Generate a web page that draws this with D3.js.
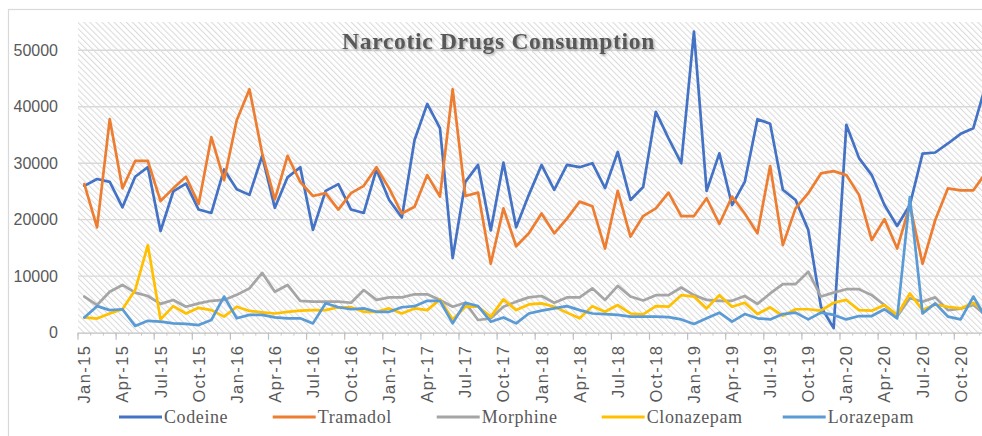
<!DOCTYPE html>
<html><head><meta charset="utf-8">
<script src="https://cdn.jsdelivr.net/npm/d3@7"></script>
<style>body{margin:0;background:#fff;} svg{display:block}</style>
</head><body>
<svg id="c" width="982" height="436"></svg>
<script>
// ---------- data ----------
const years = ["15","16","17","18","19","20"];
const monthNames = ["Jan","Feb","Mar","Apr","May","Jun","Jul","Aug","Sep","Oct","Nov","Dec"];
const categories = years.flatMap(y => monthNames.map(m => m + "-" + y));
const tickLabels = ["Jan-15","Apr-15","Jul-15","Oct-15","Jan-16","Apr-16","Jul-16","Oct-16","Jan-17","Apr-17","Jul-17","Oct-17","Jan-18","Apr-18","Jul-18","Oct-18","Jan-19","Apr-19","Jul-19","Oct-19","Jan-20","Apr-20","Jul-20","Oct-20"];
const yTicks = [0,10000,20000,30000,40000,50000];
const seriesNames = ["Codeine","Tramadol","Morphine","Clonazepam","Lorazepam"];

const codeine = [26000,27200,26700,22200,27600,29300,18000,25000,26400,21800,21200,28900,25400,24400,31300,22100,27500,29300,18200,25100,26300,21800,21200,28900,23500,20400,34100,40500,36200,13200,26700,29700,18100,30100,18650,24400,29700,25300,29700,29300,30000,25600,32000,23500,25800,39100,34400,30000,53300,25100,31750,22600,26700,37800,37000,25300,23500,18200,4600,800,36800,30900,27900,22600,18900,22600,31700,31900,33500,35200,36200,44000];
const tramadol = [26300,18650,37800,25550,30400,30400,23300,25550,27600,22800,34600,27000,37600,43100,31750,23600,31300,26700,24200,24700,21800,24700,26000,29300,25550,21100,22300,27900,24100,43100,24200,24800,12200,22000,15300,17600,21100,17600,20200,23200,22400,14900,25100,17000,20650,22000,24800,20650,20650,23800,19250,24100,21100,17600,29500,15500,22000,24700,28200,28600,27900,24400,16400,20100,14900,22600,12200,19950,25550,25200,25200,28400];
const morphine = [6400,4900,7250,8450,7100,6500,5100,5800,4600,5200,5650,5800,6700,7850,10600,7250,8450,5650,5500,5500,5500,5300,7550,5800,6250,6250,6800,6800,5800,4600,5300,2250,2550,4600,5500,6250,6500,5300,6250,6250,7850,5800,8300,6400,5700,6650,6650,8000,6650,5800,5650,5650,6500,5100,6950,8600,8600,10800,6400,7100,7700,7700,6650,4900,2850,6100,5500,6250,4000,4250,4900,3000];
const clonazepam = [2700,2500,3400,4150,7550,15500,2350,4700,3400,4400,4000,2850,4600,3850,3600,3400,3700,3900,4000,4000,4500,4500,3700,3700,4300,3400,4300,4000,5900,2350,4600,4600,2850,5900,4000,5000,5200,4600,3550,2550,4700,3700,4900,3400,3250,4700,4600,6650,6400,4300,6650,4600,5300,3300,4500,3000,4150,4150,3900,5300,5800,4000,3900,4900,3150,6950,4000,5000,4600,4300,5300,3500];
const lorazepam = [2700,4700,4000,4150,1200,2100,1950,1650,1550,1350,2250,6400,2550,3150,3150,2700,2550,2550,1650,5200,4500,4150,4300,3700,3700,4500,4700,5650,5650,1650,5300,4700,1950,2700,1650,3400,3900,4300,4700,4000,3400,3300,3150,2850,2850,2850,2750,2350,1550,2550,3550,1950,3300,2550,2350,3300,3550,2350,3550,3150,2350,2950,2950,4150,2550,24000,3400,5200,2850,2350,6400,2500];

// ---------- layout ----------
const colors = ["#4472C4","#ED7D31","#A5A5A5","#FFC000","#5B9BD5"];
const allSeries = [codeine, tramadol, morphine, clonazepam, lorazepam];
const L = 78, T = 22, B = 332.7, step = 12.7;
const svg = d3.select("#c");

const defs = svg.append("defs");
const pat = defs.append("pattern").attr("id","hatch").attr("patternUnits","userSpaceOnUse")
  .attr("width",4.3).attr("height",4.3).attr("patternTransform","rotate(-45)");
pat.append("rect").attr("width",4.3).attr("height",4.3).attr("fill","#ffffff");
pat.append("rect").attr("width",1).attr("height",4.3).attr("fill","#dadada");
const f = defs.append("filter").attr("id","sh").attr("x","-5%").attr("y","-20%").attr("width","110%").attr("height","150%");
f.append("feDropShadow").attr("dx",1.2).attr("dy",1.4).attr("stdDeviation",0.9).attr("flood-color","#8a8a8a").attr("flood-opacity",0.8);

// chart border
svg.append("rect").attr("x",8.5).attr("y",9.5).attr("width",1100).attr("height",600)
  .attr("fill","#fff").attr("stroke","#d9d9d9").attr("stroke-width",1.2);

const x = d3.scaleBand().domain(categories).range([L, L + step*categories.length]);
const bw = x.bandwidth();
const y = d3.scaleLinear().domain([0,55000]).range([B, T]);

// plot area hatch
svg.append("rect").attr("x",L).attr("y",T).attr("width",step*categories.length).attr("height",B-T).attr("fill","url(#hatch)");

// gridlines
svg.append("g").selectAll("line").data(yTicks.filter(d=>d>0)).join("line")
  .attr("x1",L).attr("x2",L+step*categories.length)
  .attr("y1",d=>y(d)).attr("y2",d=>y(d))
  .attr("stroke","#d9d9d9").attr("stroke-width",1.3);

// y labels
const yAxis = svg.append("g").attr("transform",`translate(${L},0)`)
  .call(d3.axisLeft(y).tickValues(yTicks).tickSize(0).tickPadding(20).tickFormat(d3.format("d")));
yAxis.select(".domain").remove();
yAxis.selectAll("text").attr("fill","#595959").style("font-family","'Liberation Sans',Arial,sans-serif").style("font-size","16px");

// minor ticks
const minor = svg.append("g").attr("transform",`translate(0,${B})`)
  .call(d3.axisBottom(x).tickSize(3).tickFormat(""));
minor.select(".domain").remove();
minor.selectAll(".tick line").attr("x1",-bw/2).attr("x2",-bw/2).attr("stroke","#c8c8c8");

// major axis
const xAxis = svg.append("g").attr("transform",`translate(0,${B})`)
  .call(d3.axisBottom(x).tickValues(tickLabels).tickSize(7).tickSizeOuter(0));
xAxis.select(".domain").attr("stroke","#bfbfbf").attr("stroke-width",1.2);
xAxis.selectAll(".tick line").attr("x1",-bw/2).attr("x2",-bw/2).attr("stroke","#bfbfbf").attr("stroke-width",1.2);
xAxis.selectAll(".tick text")
  .attr("transform","rotate(-90)").attr("text-anchor","end")
  .attr("x",-12).attr("y",0).attr("dy","0.36em")
  .attr("fill","#595959")
  .style("font-family","'Liberation Sans',Arial,sans-serif").style("font-size","16.5px").style("letter-spacing","1.4px");

// series lines
const line = d3.line().x((d,i)=>x(categories[i])+bw/2).y(d=>y(d));
svg.append("g").selectAll("path").data(allSeries).join("path")
  .attr("d",line).attr("fill","none")
  .attr("stroke",(d,i)=>colors[i]).attr("stroke-width",2.7)
  .attr("stroke-linejoin","round").attr("stroke-linecap","round");

// title
svg.append("text").attr("x",498.5).attr("y",49).attr("text-anchor","middle")
  .attr("fill","#595959").attr("filter","url(#sh)")
  .style("font-family","'Liberation Serif','Times New Roman',serif").style("font-weight","bold")
  .style("font-size","23.5px").style("letter-spacing","0.7px")
  .text("Narcotic Drugs Consumption");

// legend
const legendX = [119, 272.7, 436.7, 601.7, 782.7];
const lg = svg.append("g").selectAll("g").data(seriesNames).join("g")
  .attr("transform",(d,i)=>`translate(${legendX[i]},417)`);
lg.append("line").attr("x1",0).attr("x2",43).attr("y1",0).attr("y2",0)
  .attr("stroke",(d,i)=>colors[i]).attr("stroke-width",2.8);
lg.append("text").attr("x",45).attr("y",0).attr("dy","0.34em").attr("fill","#595959")
  .style("font-family","'Liberation Serif','Times New Roman',serif").style("font-size","18px").style("letter-spacing","0.6px")
  .text(d=>d);
</script>
</body></html>
